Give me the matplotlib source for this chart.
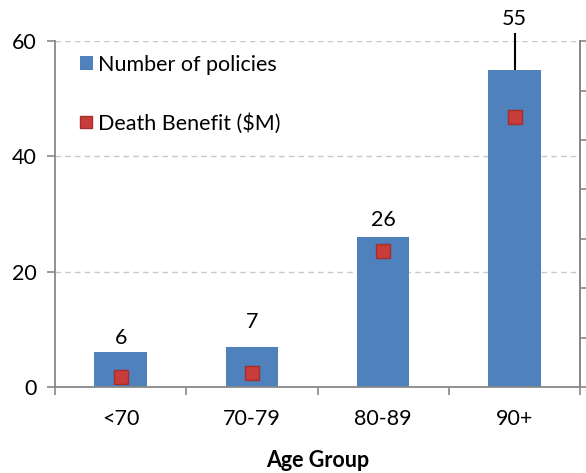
import matplotlib
matplotlib.use('Agg')
import matplotlib.pyplot as plt
import numpy as np

age_groups = ['<70', '70-79', '80-89', '90+']
policies = [6, 7, 26, 55]
death_benefit = [2.0, 2.8, 27.5, 54.6]   # on the hidden right axis (0-70)
upper_err = [0, 0, 0, 6.4]               # only the 90+ bar shows a whisker
label_offset_px = [14, 25, 17, 51]

plt.rcParams['font.family'] = ['Lato', 'DejaVu Sans']
fs = 15.5

fig = plt.figure(figsize=(5.86, 4.73), dpi=100)
ax = fig.add_axes([0.094, 0.182, 0.896, 0.731])
x = np.arange(len(age_groups))

bars = ax.bar(x, policies, width=0.4, color='#4F81BD', zorder=2,
              label='Number of policies')
ax.errorbar(x[3:], policies[3:], yerr=[[0], upper_err[3:]], fmt='none',
            ecolor='black', elinewidth=1.5, capsize=0, zorder=3, clip_on=False)

for xi, v, off in zip(x, policies, label_offset_px):
    ax.annotate(str(v), (xi, v), xytext=(0, off * 72 / 100), textcoords='offset points',
                ha='center', va='center', fontsize=fs, annotation_clip=False)

ax.set_xlim(-0.5, 3.5)
ax.set_ylim(0, 60)
ax.set_yticks([0, 20, 40, 60])
ax.set_xticks(x)
ax.set_xticklabels(age_groups)
ax.set_xticks(np.arange(-0.5, 4, 1), minor=True)
ax.tick_params(axis='x', which='major', length=0, pad=16, labelsize=fs)
ax.tick_params(axis='x', which='minor', length=6, color='#888888', width=1.2)
ax.tick_params(axis='y', length=6, color='#888888', width=1.2, labelsize=fs, pad=7)
ax.grid(axis='y', linestyle=(0, (4, 3)), color='#C8C8C8', linewidth=1, zorder=0)
for s in ['left', 'bottom', 'right']:
    ax.spines[s].set_color('#888888')
    ax.spines[s].set_linewidth(1.3)
ax.spines['top'].set_visible(False)
ax.set_xlabel('Age Group', fontsize=fs, fontweight='bold', labelpad=15)

ax2 = ax.twinx()
ax2.set_ylim(0, 70)
ax2.set_yticks(np.arange(0, 71, 10))
ax2.tick_params(axis='y', length=6, color='#888888', width=1.2, labelright=False)
for s in ['left', 'bottom', 'top']:
    ax2.spines[s].set_visible(False)
ax2.spines['right'].set_color('#888888')
ax2.spines['right'].set_linewidth(1.3)
ax2.plot(x, death_benefit, linestyle='none', marker='s', markersize=10.5,
         markerfacecolor='#C83C3A', markeredgecolor='#A52F2D', markeredgewidth=1,
         zorder=4, label='Death Benefit ($M)')

h1, l1 = ax.get_legend_handles_labels()
h2, l2 = ax2.get_legend_handles_labels()
ax2.legend(h1 + h2, l1 + l2, loc='upper left', bbox_to_anchor=(0.01, 1.017),
           frameon=False, fontsize=fs, handlelength=0.6, handleheight=0.6,
           handletextpad=0.25, labelspacing=1.78, markerscale=0.85)

fig.savefig('out.png', dpi=100)
